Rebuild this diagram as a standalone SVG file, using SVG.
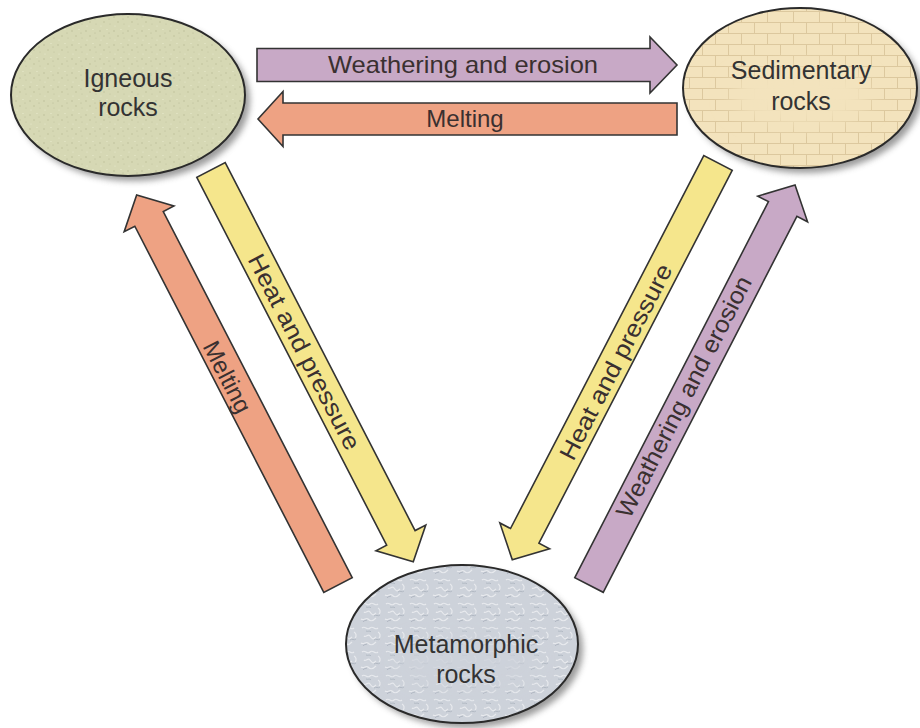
<svg xmlns="http://www.w3.org/2000/svg" width="920" height="728" viewBox="0 0 920 728">
  <defs>
    <filter id="shadow" x="-20%" y="-20%" width="140%" height="140%">
      <feGaussianBlur stdDeviation="3"/>
    </filter>
    <filter id="soft" x="-20%" y="-20%" width="140%" height="140%">
      <feGaussianBlur stdDeviation="10"/>
    </filter>
    <pattern id="speckle" width="14" height="14" patternUnits="userSpaceOnUse">
      <rect width="14" height="14" fill="#d6d8b4"/>
      <circle cx="2" cy="3" r="0.7" fill="#b9bb95"/>
      <circle cx="9" cy="1.5" r="0.6" fill="#eceed2"/>
      <circle cx="6" cy="8" r="0.7" fill="#babc97"/>
      <circle cx="12" cy="10" r="0.6" fill="#c2c49f"/>
      <circle cx="3" cy="12" r="0.6" fill="#e9ebcf"/>
      <circle cx="11" cy="5" r="0.5" fill="#b3b58f"/>
    </pattern>
    <pattern id="brick" width="26" height="22" patternUnits="userSpaceOnUse">
      <rect width="26" height="22" fill="#f3e3bd"/>
      <path d="M0,0.5H26M0,11.5H26M0.5,0V11M13.5,11V22" stroke="#dcc89e" stroke-width="1" fill="none"/>
    </pattern>
    <pattern id="squiggle" width="24" height="24" patternUnits="userSpaceOnUse">
      <rect width="24" height="24" fill="#cdd2da"/>
      <path d="M2,4c3,-3 5,3 8,0s5,3 8,0M4,12c2,2 4,-3 6,0s3,4 6,1M1,19c3,2 5,-2 7,0s4,3 8,-1M18,8c2,1 3,4 1,6" stroke="#e8eaee" stroke-width="1.2" fill="none"/>
      <path d="M6,7c2,1 4,-1 5,1M14,16c2,-2 4,1 6,-1M3,22c1,-2 3,-1 4,-2" stroke="#aab1bc" stroke-width="0.8" fill="none"/>
    </pattern>
  </defs>
  <style>
    .lbl { font-family: "Liberation Sans", Arial, sans-serif; font-size: 25px; fill: #333333; text-anchor: middle; }
    .alb { font-family: "Liberation Sans", Arial, sans-serif; font-size: 24px; fill: #3a3030; text-anchor: middle; }
    .edge { stroke: #333333; stroke-width: 1.6; stroke-linejoin: miter; }
    .purple { fill: #c8a9c6; }
    .orange { fill: #eea283; }
    .yellow { fill: #f5e68c; }
    .shadow { fill: #7a7a7a; opacity: 0.75; }
    .rim { fill: none; stroke: #2a2a2a; stroke-width: 2; }
  </style>

  <g id="igneous">
    <ellipse class="shadow" cx="133" cy="100" rx="117" ry="81" filter="url(#shadow)"/>
    <ellipse cx="128" cy="95" rx="117" ry="81" fill="url(#speckle)"/>
    <ellipse class="rim" cx="128" cy="95" rx="117" ry="81"/>
    <text class="lbl" x="128" y="87">Igneous</text>
    <text class="lbl" x="128" y="116">rocks</text>
  </g>

  <g id="sedimentary">
    <ellipse class="shadow" cx="805" cy="93" rx="117" ry="80" filter="url(#shadow)"/>
    <ellipse cx="800" cy="88" rx="117" ry="80" fill="url(#brick)"/>
    <ellipse cx="801" cy="95" rx="70" ry="30" fill="#f3e3bd" filter="url(#soft)"/>
    <ellipse class="rim" cx="800" cy="88" rx="117" ry="80"/>
    <text class="lbl" x="801" y="79">Sedimentary</text>
    <text class="lbl" x="801" y="110">rocks</text>
  </g>

  <g id="metamorphic">
    <ellipse class="shadow" cx="467" cy="649" rx="116" ry="79" filter="url(#shadow)"/>
    <ellipse cx="462" cy="644" rx="116" ry="79" fill="url(#squiggle)"/>
    <ellipse cx="465" cy="662" rx="70" ry="28" fill="#cdd2da" opacity="0.8" filter="url(#soft)"/>
    <ellipse class="rim" cx="462" cy="644" rx="116" ry="79"/>
    <text class="lbl" x="466" y="653">Metamorphic</text>
    <text class="lbl" x="466" y="683">rocks</text>
  </g>

  <g id="connectors">
    <g id="ign-sed" transform="translate(257,65)">
      <polygon class="purple edge" points="0,-16.5 393,-16.5 393,-28 420,0 393,28 393,16.5 0,16.5"/>
      <text class="alb" x="206" y="8" textLength="270" lengthAdjust="spacingAndGlyphs">Weathering and erosion</text>
    </g>
    <g id="sed-ign" transform="translate(677,119) rotate(180)">
      <polygon class="orange edge" points="0,-16 394,-16 394,-27.5 419,0 394,27.5 394,16 0,16"/>
    </g>
    <text class="alb" x="465" y="127">Melting</text>

    <g id="met-ign" transform="translate(338,585) rotate(-117.3)">
      <polygon class="orange edge" points="0,-16 412,-16 412,-28 439,0 412,28 412,16 0,16"/>
    </g>
    <text class="alb" transform="translate(227,377) rotate(62.7)" x="0" y="8">Melting</text>

    <g id="ign-met" transform="translate(211,170) rotate(62.7)">
      <polygon class="yellow edge" points="0,-16 414,-16 414,-28 441,0 414,28 414,16 0,16"/>
    </g>
    <text class="alb" transform="translate(304,352) rotate(62.7)" x="0" y="8" textLength="217" lengthAdjust="spacingAndGlyphs">Heat and pressure</text>

    <g id="sed-met" transform="translate(718,163) rotate(117.4)">
      <polygon class="yellow edge" points="0,-16 420,-16 420,-28 447,0 420,28 420,16 0,16"/>
    </g>
    <text class="alb" transform="translate(616,362) rotate(-62.6)" x="0" y="8" textLength="217" lengthAdjust="spacingAndGlyphs">Heat and pressure</text>

    <g id="met-sed" transform="translate(589,585) rotate(-62.75)">
      <polygon class="purple edge" points="0,-16 423,-16 423,-28 450,0 423,28 423,16 0,16"/>
    </g>
    <text class="alb" transform="translate(684,397) rotate(-62.75)" x="0" y="8" textLength="268" lengthAdjust="spacingAndGlyphs">Weathering and erosion</text>
  </g>
</svg>
